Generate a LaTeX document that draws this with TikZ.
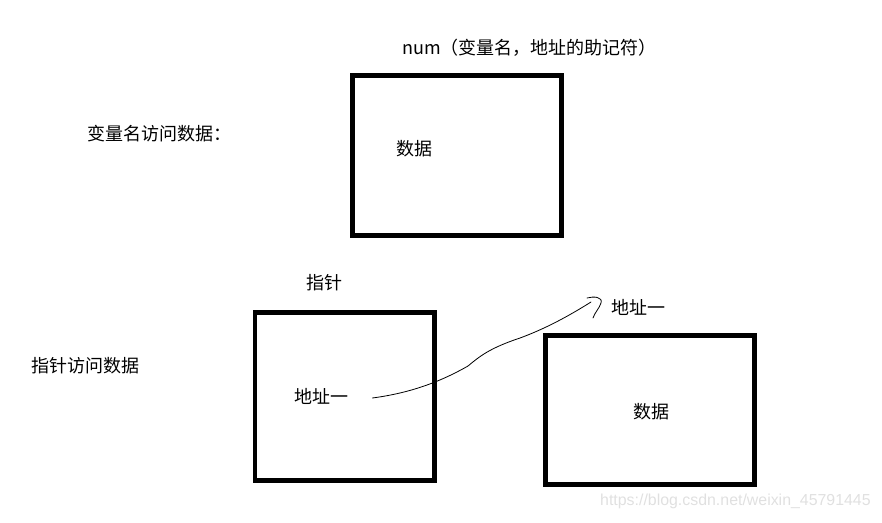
\documentclass[tikz,border=0pt]{standalone}
\usepackage{fontspec}
\setmainfont{Noto Sans CJK SC}
\usetikzlibrary{calc}
\begin{document}
\begin{tikzpicture}[x=1pt,y=-1pt,
  lbl/.style={anchor=west,inner sep=0pt,font=\fontsize{18}{21}\selectfont},
  boxline/.style={draw=black,line width=4.5pt,inner sep=0pt},
  hand/.style={draw=black,line width=0.8pt,line cap=round,line join=round}]
\useasboundingbox (0,0) rectangle (882,522);
% boxes
\draw[boxline] (352.5,75.5) rectangle (561.5,235.5);
\draw[boxline] (255,312.5) rectangle (434.5,480.5);
\draw[boxline] (545.5,335.5) rectangle (754.5,484.5);
% texts
\node[lbl] (title) at (402,48) {num（变量名，地址的助记符）};
\node[lbl] (varacc) at (87,134) {变量名访问数据：};
\node[lbl] (data1) at (396,149) {数据};
\node[lbl] (ptr) at (306,283) {指针};
\node[lbl] (ptracc) at (31,366) {指针访问数据};
\node[lbl] (addr1) at (294,396) {地址一};
\node[lbl] (addr2) at (611,307) {地址一};
\node[lbl] (data2) at (633,412) {数据};
\node[anchor=west,inner sep=0pt,text=black!12,font=\fontsize{15.9}{17}\selectfont\fontspec{Liberation Sans}] (wm) at (600,501) {https://blog.csdn.net/weixin\_45791445};
% hand-drawn pointer
\coordinate (start) at ($(addr1.east)+(24,2)$);
\coordinate (tipA) at (587,298);
\coordinate (tipB) at (601,299);
\coordinate (tipC) at (593,318);
\draw[hand] (start) .. controls (410,393) and (440,382) .. (468,366)
  .. controls (480,356) and (490,348) .. (520,338)
  .. controls (550,327) and (575,312) .. (591,302);
\draw[hand] (tipA) .. controls (594,296) and (603,297) .. (601,303) .. controls (599,309) and (595,312) .. (tipC);
\end{tikzpicture}
\end{document}
